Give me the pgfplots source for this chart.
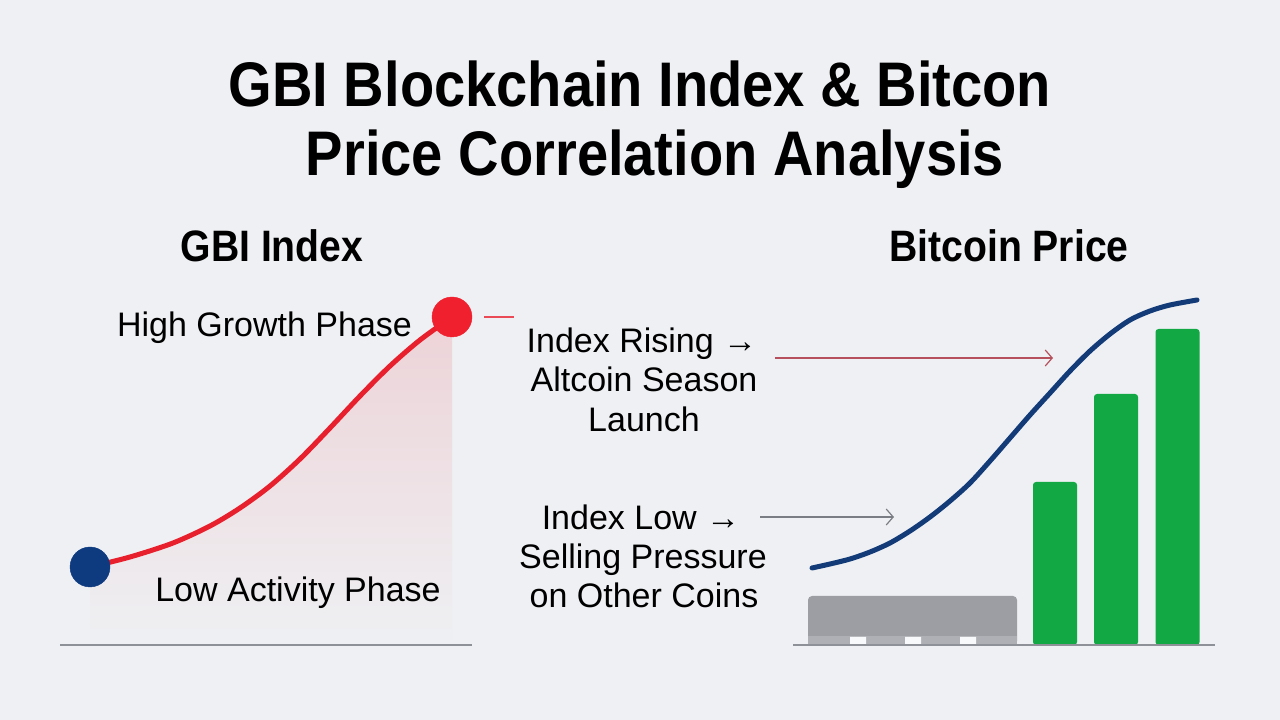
\documentclass[border=0pt]{standalone}
\usepackage{pgfplots}
\pgfplotsset{compat=1.18}
\usepackage{fontspec}
\setmainfont{Liberation Sans}
\newfontfamily\condf[FakeStretch=0.89]{Liberation Sans}
\usetikzlibrary{arrows.meta}
\definecolor{bg}{HTML}{EEF0F3}
\definecolor{gbired}{HTML}{E8202E}
\definecolor{dotred}{HTML}{F0202E}
\definecolor{navy}{HTML}{133B78}
\definecolor{dotblue}{HTML}{0E3A80}
\definecolor{btcgreen}{HTML}{12A844}
\definecolor{bargray}{HTML}{9C9EA4}
\definecolor{striplight}{HTML}{AEB0B5}
\definecolor{basegray}{HTML}{8E9298}
\definecolor{arrred}{HTML}{B5505C}
\definecolor{arrgray}{HTML}{7A7E84}
\pgfplotstableread{
x y
30 78
70 88
113 102
150 119
180 137
210 159
240 186
270 217
300 249
330 279
360 305
392 328
}\gbicurve
\pgfplotstableread{
x y
19 77
37 81
57 86
77 93
97 102
117 114
137 128
157 144
177 162
197 184
217 207
237 230
257 252
277 274
297 294
317 311
337 325
357 334
377 340
404 345
}\btccurve
\begin{document}
\begin{tikzpicture}[x=1bp,y=1bp]
\fill[bg] (0,0) rectangle (1280,720);
\useasboundingbox (0,0) rectangle (1280,720);
% titles
\node[anchor=base, inner sep=0pt, font=\condf\bfseries\fontsize{63bp}{69bp}\selectfont] at (640,613) {GBI Blockchain Index \& Bitcon};
\node[anchor=base, inner sep=0pt, font=\condf\bfseries\fontsize{63bp}{69bp}\selectfont] at (655,544) {Price Correlation Analysis};
\node[anchor=base, inner sep=0pt, font=\condf\bfseries\fontsize{44bp}{50bp}\selectfont] at (272,458) {GBI Index};
\node[anchor=base, inner sep=0pt, font=\condf\bfseries\fontsize{44bp}{50bp}\selectfont] at (1009,458) {Bitcoin Price};

% left panel: GBI index
\begin{axis}[at={(60,75)}, anchor=south west, scale only axis,
  width=412bp, height=400bp, xmin=0, xmax=412, ymin=0, ymax=400,
  hide axis, clip=false]
\addplot[draw=none, top color=gbired!14!bg, middle color=gbired!3!bg, bottom color=bg, smooth] table {\gbicurve} \closedcycle;
\addplot[basegray, line width=1.5bp] coordinates {(0,0)(412,0)};
\addplot[gbired, line width=5bp, smooth, line cap=round] table {\gbicurve};
\addplot[gbired!80!bg, line width=1.5bp] coordinates {(424,328)(454,328)};
\addplot[only marks, mark=*, mark size=20bp, mark options={fill=dotblue, draw=dotblue}] coordinates {(30,78)};
\addplot[only marks, mark=*, mark size=20bp, mark options={fill=dotred, draw=dotred}] coordinates {(392,328)};
\node[anchor=base, inner sep=0pt, font=\fontsize{34bp}{40bp}\selectfont] at (axis cs:204.5,308) {High Growth Phase};
\node[anchor=base, inner sep=0pt, font=\fontsize{34bp}{40bp}\selectfont] at (axis cs:238,43) {Low Activity Phase};
\end{axis}

% right panel: Bitcoin price
\begin{axis}[at={(793,75)}, anchor=south west, scale only axis,
  width=422bp, height=400bp, xmin=0, xmax=422, ymin=0, ymax=400,
  hide axis, clip=false]
\addplot[ybar, bar width=209, bar shift=0pt, fill=bargray, draw=none, rounded corners=4bp] coordinates {(119.5,49)};
\addplot[ybar, bar width=209, bar shift=0pt, fill=striplight, draw=none] coordinates {(119.5,9)};
\addplot[ybar, bar width=16, bar shift=0pt, fill=bg!40!white, draw=none] coordinates {(65,8)(120,8)(175,8)};
\addplot[ybar, bar width=44, bar shift=0pt, fill=btcgreen, draw=none, rounded corners=3bp] coordinates {(262,163)(323,251)(384.5,316)};
\addplot[basegray, line width=1.5bp] coordinates {(0,0)(422,0)};
\addplot[navy, line width=5bp, smooth, line cap=round] table {\btccurve};
\addplot[arrred, line width=1.2bp, -{Straight Barb[length=7bp,width=16bp]}] coordinates {(-18,287)(260,287)};
\addplot[arrgray, line width=1.2bp, -{Straight Barb[length=7bp,width=16bp]}] coordinates {(-33,128)(101,128)};
\begin{scope}[every node/.style={anchor=base, inner sep=0pt, font=\fontsize{34bp}{40bp}\selectfont}]
\node at (axis cs:-151,292) {Index Rising →};
\node at (axis cs:-149,253) {Altcoin Season};
\node at (axis cs:-149,213) {Launch};
\node at (axis cs:-152,115) {Index Low →};
\node at (axis cs:-150,76) {Selling Pressure};
\node at (axis cs:-149,37) {on Other Coins};
\end{scope}
\end{axis}
\end{tikzpicture}
\end{document}
